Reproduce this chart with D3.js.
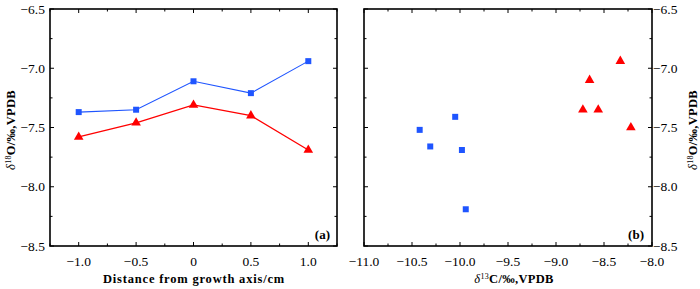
<!DOCTYPE html>
<html>
<head>
<meta charset="utf-8">
<script src="https://cdn.jsdelivr.net/npm/d3@7"></script>
<style>
	body { margin: 0; background: #fff; }
</style>
</head>
<body>
<svg></svg>
<script>
// panel (a): distance from growth axis
const distance = [-1.0, -0.5, 0, 0.5, 1.0];
const blueO_a = [-7.37, -7.35, -7.11, -7.21, -6.94];
const redO_a = [-7.58, -7.46, -7.31, -7.40, -7.69];

// panel (b): d13C vs d18O
const blueC_b = [-10.42, -10.05, -10.31, -9.98, -9.94];
const blueO_b = [-7.52, -7.41, -7.66, -7.69, -8.19];
const redC_b = [-8.72, -8.65, -8.56, -8.33, -8.22];
const redO_b = [-7.35, -7.10, -7.35, -6.94, -7.50];

const yTicks = [-6.5, -7.0, -7.5, -8.0, -8.5];
const xTicksA = [-1.0, -0.5, 0, 0.5, 1.0];
const xTicksB = [-11.0, -10.5, -10.0, -9.5, -9.0, -8.5, -8.0];

const blue = '#1f55ff', red = '#ff0000';
const serif = '"Liberation Serif", "Times New Roman", serif';

const svg = d3.select('svg')
	.attr('width', 700)
	.attr('height', 289)
	.attr('font-family', serif);

const plotTop = 9, plotBottom = 246;

const yScale = d3.scaleLinear().domain([-8.5, -6.5]).range([plotBottom, plotTop]);
const xA = d3.scaleLinear().domain([-1.25, 1.25]).range([50, 337]);
const xB = d3.scaleLinear().domain([-11, -8]).range([364, 652]);

const fmt = v => v === 0 ? '0' : d3.format('.1f')(v).replace('-', '\u2212');

const minorOf = (scale, step) => {
	const [a, b] = scale.domain();
	return d3.range(Math.ceil(a / step) * step, b + 1e-9, step);
};

const frame = (xScale, xTicks, yLabelsRight) => {
	const [x0, x1] = xScale.range();
	const g = svg.append('g');

	const xMinor = minorOf(xScale, 0.25);
	const yMinor = minorOf(yScale, 0.25);
	const isMajor = v => Math.abs(v * 2 - Math.round(v * 2)) < 1e-6;

	// ticks on all four sides, pointing inward
	xMinor.forEach(v => {
		const len = isMajor(v) ? 4 : 2.5;
		const x = xScale(v);
		g.append('line').attr('x1', x).attr('x2', x).attr('y1', plotBottom).attr('y2', plotBottom - len);
		g.append('line').attr('x1', x).attr('x2', x).attr('y1', plotTop).attr('y2', plotTop + len);
	});
	yMinor.forEach(v => {
		const len = isMajor(v) ? 4 : 2.5;
		const y = yScale(v);
		g.append('line').attr('x1', x0).attr('x2', x0 + len).attr('y1', y).attr('y2', y);
		g.append('line').attr('x1', x1).attr('x2', x1 - len).attr('y1', y).attr('y2', y);
	});
	g.selectAll('line').attr('stroke', '#000').attr('stroke-width', 1);

	g.append('rect')
		.attr('x', x0).attr('y', plotTop)
		.attr('width', x1 - x0).attr('height', plotBottom - plotTop)
		.attr('fill', 'none').attr('stroke', '#000').attr('stroke-width', 1.6);

	g.selectAll('.xl').data(xTicks).enter().append('text')
		.attr('x', d => xScale(d))
		.attr('y', 266)
		.attr('text-anchor', 'middle')
		.attr('font-size', 13.5)
		.text(fmt);

	g.selectAll('.yl').data(yTicks).enter().append('text')
		.attr('x', yLabelsRight ? x1 + 1 : x0 - 5)
		.attr('y', d => yScale(d) + 4.5)
		.attr('text-anchor', yLabelsRight ? 'start' : 'end')
		.attr('font-size', 13.5)
		.text(fmt);
	return g;
};

const yTitle = (g, x) => {
	const t = g.append('text')
		.attr('transform', `translate(${x},130) rotate(-90)`)
		.attr('text-anchor', 'middle')
		.attr('font-size', 12.5)
		.attr('font-weight', 'bold')
		.attr('letter-spacing', 0.3);
	t.append('tspan').attr('font-style', 'italic').attr('font-weight', 'normal').text('\u03b4');
	t.append('tspan').attr('font-size', 8).attr('dy', -4).attr('font-weight', 'normal').text('18');
	t.append('tspan').attr('dy', 4).text('O/\u2030,VPDB');
};

// panel (a)
const gA = frame(xA, xTicksA, false);
yTitle(gA, 15);

gA.append('text')
	.attr('x', 194).attr('y', 283)
	.attr('text-anchor', 'middle')
	.attr('font-size', 12.5)
	.attr('font-weight', 'bold')
	.attr('letter-spacing', 0.8)
	.text('Distance from growth axis/cm');

gA.append('text')
	.attr('x', 330).attr('y', 239)
	.attr('text-anchor', 'end')
	.attr('font-size', 13)
	.attr('font-weight', 'bold')
	.text('(a)');

const lineA = vals => d3.line()
	.x((d, i) => xA(distance[i]))
	.y(d => yScale(d))(vals);

gA.append('path').attr('d', lineA(blueO_a))
	.attr('fill', 'none').attr('stroke', blue).attr('stroke-width', 1.1);
gA.append('path').attr('d', lineA(redO_a))
	.attr('fill', 'none').attr('stroke', red).attr('stroke-width', 1.3);

const square = d3.symbol().type(d3.symbolSquare).size(36);
const triangle = d3.symbol().type(d3.symbolTriangle).size(40);

gA.selectAll('.sq').data(blueO_a).enter().append('path')
	.attr('d', square)
	.attr('transform', (d, i) => `translate(${xA(distance[i])},${yScale(d)})`)
	.attr('fill', blue);
gA.selectAll('.tr').data(redO_a).enter().append('path')
	.attr('d', triangle)
	.attr('transform', (d, i) => `translate(${xA(distance[i])},${yScale(d)})`)
	.attr('fill', red);

// panel (b)
const gB = frame(xB, xTicksB, true);
yTitle(gB, 697);

const xt = gB.append('text')
	.attr('x', 514).attr('y', 283)
	.attr('text-anchor', 'middle')
	.attr('font-size', 12.5)
	.attr('font-weight', 'bold')
	.attr('letter-spacing', 0.3);
xt.append('tspan').attr('font-style', 'italic').attr('font-weight', 'normal').text('\u03b4');
xt.append('tspan').attr('font-size', 8).attr('dy', -4).attr('font-weight', 'normal').text('13');
xt.append('tspan').attr('dy', 4).text('C/\u2030,VPDB');

gB.append('text')
	.attr('x', 644).attr('y', 239)
	.attr('text-anchor', 'end')
	.attr('font-size', 13)
	.attr('font-weight', 'bold')
	.text('(b)');

gB.selectAll('.sq').data(blueO_b).enter().append('path')
	.attr('d', square)
	.attr('transform', (d, i) => `translate(${xB(blueC_b[i])},${yScale(d)})`)
	.attr('fill', blue);
gB.selectAll('.tr').data(redO_b).enter().append('path')
	.attr('d', triangle)
	.attr('transform', (d, i) => `translate(${xB(redC_b[i])},${yScale(d)})`)
	.attr('fill', red);
</script>
</body>
</html>
